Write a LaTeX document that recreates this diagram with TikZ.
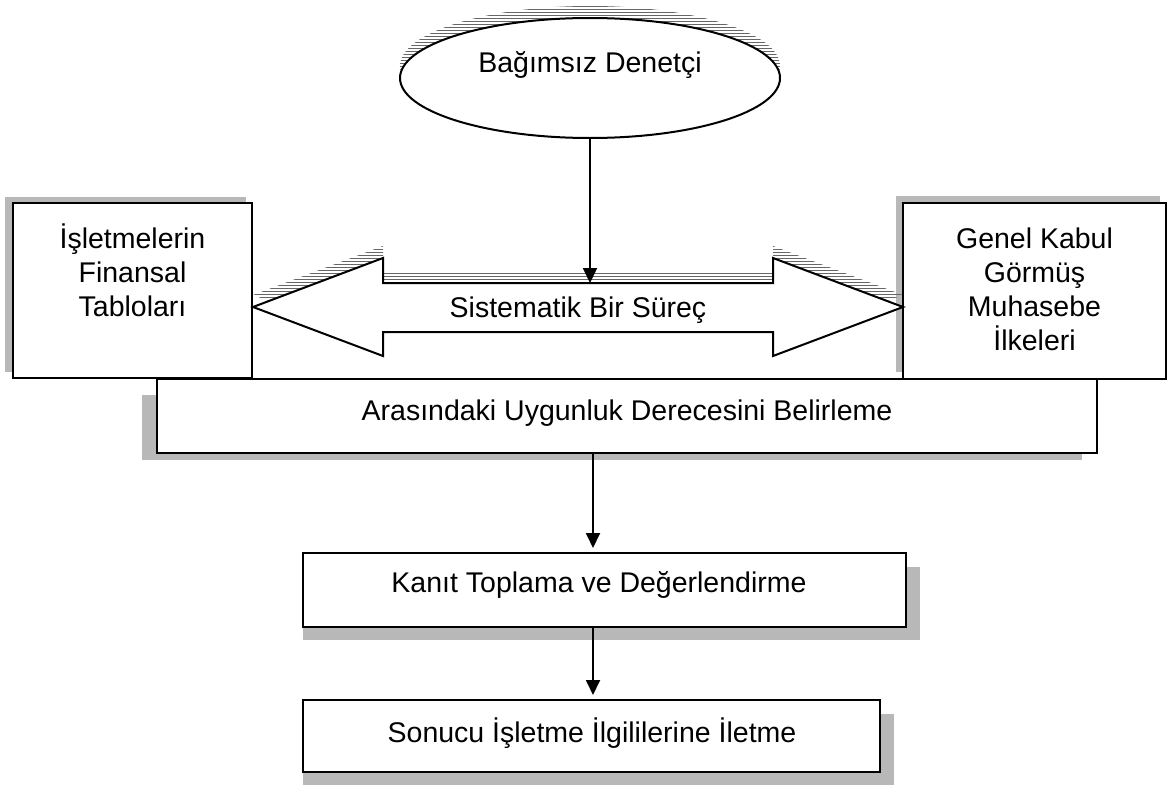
\documentclass[tikz,border=0pt]{standalone}
\usepackage{fontspec}
\setmainfont{Liberation Sans}
\usetikzlibrary{shapes.geometric,arrows.meta,patterns}
\begin{document}
\begin{tikzpicture}[x=1pt,y=-1pt,
  lbl/.style={anchor=base,inner sep=0pt,font=\fontsize{28.5}{34}\selectfont},
  box/.style={draw,line width=2pt,fill=white,rectangle,inner sep=0pt},
  scan/.style={fill=black!28,draw=none},
  hatch/.style={pattern=horizontal lines,pattern color=black!60,draw=none},
  arr/.style={line width=1.8pt,-{Triangle[width=14pt,length=15pt]}}]
\useasboundingbox (0,0) rectangle (1170,787);

% scanned drop shadows
\fill[scan] (5,197) rectangle (246,372);
\fill[scan] (896,196) rectangle (1160,372);
\fill[scan] (142,395) rectangle (1082,460);
\fill[scan] (303,567) rectangle (920,640);
\fill[scan] (303,714) rectangle (894,785);
\path[hatch] (590,66) ellipse [x radius=190, y radius=60];
\path[hatch] (253,295) -- (383,246) -- (383,271) -- (773,271) -- (773,246)
  -- (903,295) -- (773,344) -- (773,320) -- (383,320) -- (383,344) -- cycle;

% main boxes
\node[box,minimum width=940pt,minimum height=74pt] (big) at (627,416) {};
\node[box,minimum width=239pt,minimum height=175pt] (fin) at (132.5,290.5) {};
\node[box,minimum width=263pt,minimum height=176pt] (gkg) at (1034.5,291) {};

% two-headed process arrow
\draw[line width=2pt,fill=white,line join=miter]
  (253,307) -- (383,258) -- (383,283) -- (773,283) -- (773,258)
  -- (903,307) -- (773,356) -- (773,332) -- (383,332) -- (383,356) -- cycle;
\coordinate (procTop) at (590,283);

% auditor
\node[ellipse,draw,line width=2pt,fill=white,inner sep=0pt,
      minimum width=380pt,minimum height=120pt] (aud) at (590,78) {};

% lower steps
\node[box,minimum width=603pt,minimum height=74pt] (kan) at (604.5,590) {};
\node[box,minimum width=577pt,minimum height=72pt] (son) at (591.5,736) {};

% labels
\node[lbl] (audT) at (590,72) {Bağımsız Denetçi};
\node[lbl] (procT) at (578,317) {Sistematik Bir Süreç};
\node[lbl] (bigT) at (627,420) {Arasındaki Uygunluk Derecesini Belirleme};
\node[lbl] (kanT) at (599,592) {Kanıt Toplama ve Değerlendirme};
\node[lbl] (sonT) at (592,742) {Sonucu İşletme İlgililerine İletme};
\node[lbl] (finA) at (132.5,248) {İşletmelerin};
\node[lbl] (finB) at (132.5,282) {Finansal};
\node[lbl] (finC) at (132.5,316) {Tabloları};
\node[lbl] (gkgA) at (1034.5,248) {Genel Kabul};
\node[lbl] (gkgB) at (1034.5,282) {Görmüş};
\node[lbl] (gkgC) at (1034.5,316) {Muhasebe};
\node[lbl] (gkgD) at (1034.5,350) {İlkeleri};

% connectors
\coordinate (ax) at (593,0);
\draw[arr] (aud.south) -- (procTop);
\draw[arr,shorten >=4pt] (big.south -| ax) -- (kan.north -| ax);
\draw[arr,shorten >=4pt] (kan.south -| ax) -- (son.north -| ax);
\end{tikzpicture}
\end{document}
